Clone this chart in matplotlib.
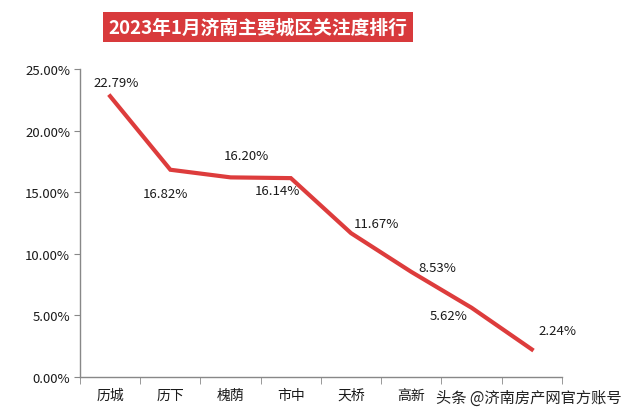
import matplotlib
matplotlib.use("Agg")
import matplotlib.pyplot as plt
from matplotlib.ticker import FixedLocator, FuncFormatter

plt.rcParams['font.family'] = ['Noto Sans CJK SC', 'DejaVu Sans']

categories = ["历城", "历下", "槐荫", "市中", "天桥", "高新", "章丘", "长清"]
values = [22.79, 16.82, 16.20, 16.14, 11.67, 8.53, 5.62, 2.24]
label_offsets = [(6, 14), (-5, -24), (16, 22), (-13, -12), (25, 10), (26, 4), (-23, -8), (26, 19)]
title = "2023年1月济南主要城区关注度排行"
watermark = "头条 @济南房产网官方账号"
yticks = [0, 5, 10, 15, 20, 25]

fig = plt.figure(figsize=(6.4, 4.14), dpi=100)
fig.patch.set_facecolor("white")
ax = fig.add_axes([0.125, 0.087, 0.753, 0.744])

x = list(range(len(categories)))
ax.plot(x, values, color="#dd3c3c", lw=3.0, solid_joinstyle="miter", zorder=3)

for xi, v, (dx, dy) in zip(x, values, label_offsets):
    ax.annotate(f"{v:.2f}%", (xi, v), xytext=(dx, dy), textcoords="offset pixels",
                ha="center", va="center", fontsize=9.5, color="#1a1a1a", zorder=4)

ax.set_xlim(-0.5, len(categories) - 0.5)
ax.set_ylim(0, 25)
ax.set_yticks(yticks)
ax.yaxis.set_major_formatter(FuncFormatter(lambda v, p: f"{v:.2f}%"))
ax.set_xticks(x)
ax.set_xticklabels(categories)
# the last two category labels are covered by the platform watermark in the reference
for lbl in ax.get_xticklabels()[-2:]:
    lbl.set_visible(False)
ax.xaxis.set_minor_locator(FixedLocator([i - 0.5 for i in range(len(categories) + 1)]))
ax.tick_params(axis="x", which="major", length=0, pad=8, labelsize=10, labelcolor="#1a1a1a")
ax.tick_params(axis="x", which="minor", length=5, color="#888888", direction="out")
ax.tick_params(axis="y", length=4, color="#888888", labelsize=9.5, labelcolor="#1a1a1a", pad=3)

for s in ["top", "right"]:
    ax.spines[s].set_visible(False)
for s in ["left", "bottom"]:
    ax.spines[s].set_color("#888888")
    ax.spines[s].set_linewidth(1.0)

fig.text(258 / 640, 1 - 28 / 414, title, ha="center", va="center", color="white",
         fontsize=13.5, fontweight="bold",
         bbox=dict(boxstyle="square,pad=0.3", facecolor="#d83a3c", edgecolor="none"))

fig.text(529 / 640, 1 - 398 / 414, watermark, ha="center", va="center",
         fontsize=11, color="#222222")

fig.savefig("out.png", dpi=100)
